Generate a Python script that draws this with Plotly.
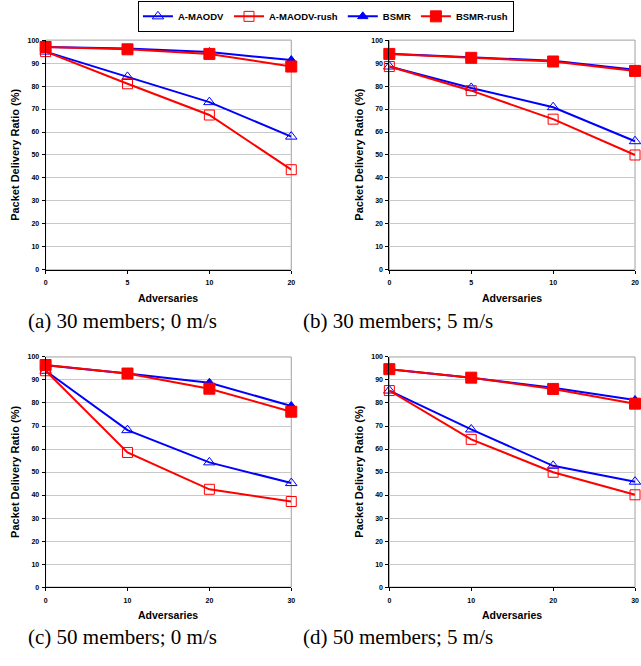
import plotly.graph_objects as go

W, H = 641, 666

series_names = ["A-MAODV", "A-MAODV-rush", "BSMR", "BSMR-rush"]
x_labels_30 = ["0", "5", "10", "20"]
x_labels_50 = ["0", "10", "20", "30"]

# (a) 30 members; 0 m/s
a_amaodv = [95, 84, 73, 58]
a_amaodv_rush = [95, 81, 67.4, 43.6]
a_bsmr = [97, 96.3, 94.8, 91.3]
a_bsmr_rush = [97, 96, 94, 88.5]

# (b) 30 members; 5 m/s
b_amaodv = [88.5, 79.2, 70.8, 56]
b_amaodv_rush = [88.5, 78, 65.6, 50]
b_bsmr = [94.1, 92.4, 91, 87.1]
b_bsmr_rush = [94, 92.3, 90.7, 86.6]

# (c) 50 members; 0 m/s
c_amaodv = [94, 68.2, 54.2, 45.2]
c_amaodv_rush = [94, 58.5, 42.5, 37.2]
c_bsmr = [96.4, 92.8, 88.8, 78.7]
c_bsmr_rush = [96.5, 92.8, 86.2, 76.2]

# (d) 50 members; 5 m/s
d_amaodv = [85.4, 68.5, 52.7, 45.8]
d_amaodv_rush = [85.4, 64.2, 49.9, 40.1]
d_bsmr = [94.7, 91, 86.6, 81.3]
d_bsmr_rush = [94.7, 91, 86.1, 79.7]

captions = ["(a) 30 members; 0 m/s", "(b) 30 members; 5 m/s",
            "(c) 50 members; 0 m/s", "(d) 50 members; 5 m/s"]

panels = [
    (x_labels_30, [a_amaodv, a_amaodv_rush, a_bsmr, a_bsmr_rush]),
    (x_labels_30, [b_amaodv, b_amaodv_rush, b_bsmr, b_bsmr_rush]),
    (x_labels_50, [c_amaodv, c_amaodv_rush, c_bsmr, c_bsmr_rush]),
    (x_labels_50, [d_amaodv, d_amaodv_rush, d_bsmr, d_bsmr_rush]),
]

# plot-area boxes in pixels (left, right, top, bottom)
boxes = [
    (44, 292, 36.5, 268.7),
    (391, 639, 36.5, 268.7),
    (44, 292, 356.7, 589.3),
    (391, 639, 356.7, 589.3),
]
caption_pos = [(122, 320), (400, 320), (122, 640), (400, 640)]

BLUE = "#0000ff"
RED = "#ff0000"
styles = [
    dict(color=BLUE, symbol="triangle-up-open", size=10),
    dict(color=RED, symbol="square-open", size=10),
    dict(color=BLUE, symbol="triangle-up", size=9),
    dict(color=RED, symbol="square", size=11),
]

fig = go.Figure()
AX_FONT = dict(family="Liberation Sans, Arial", size=7, color="#000000", weight="bold")
XT_FONT = dict(family="Liberation Sans, Arial", size=10.5, color="#000000", weight="bold")
YT_FONT = dict(family="Liberation Sans, Arial", size=11, color="#000000", weight="bold")

for i, ((xl, ser), (l, r, t, b)) in enumerate(zip(panels, boxes)):
    n = i + 1
    xa = "x" if n == 1 else f"x{n}"
    ya = "y" if n == 1 else f"y{n}"
    xpos = list(range(len(xl)))
    for k, (name, vals) in enumerate(zip(series_names, ser)):
        st = styles[k]
        fig.add_trace(go.Scatter(
            x=xpos, y=vals, name=name, mode="lines+markers",
            xaxis=xa, yaxis=ya, showlegend=(i == 0), legendgroup=name,
            cliponaxis=False,
            line=dict(color=st["color"], width=2),
            marker=dict(symbol=st["symbol"], size=st["size"], color=st["color"],
                        line=dict(color=st["color"], width=1)),
        ))
    xkey = "xaxis" if n == 1 else f"xaxis{n}"
    ykey = "yaxis" if n == 1 else f"yaxis{n}"
    fig.layout[xkey] = dict(
        domain=[l / W, r / W], anchor=ya, range=[0, len(xl) - 1],
        tickmode="array", tickvals=xpos, ticktext=xl,
        showgrid=False, zeroline=False, showline=True, linecolor="#000000", linewidth=1,
        ticks="outside", ticklen=3, tickcolor="#000000", tickfont=AX_FONT,
        ticklabelstandoff=3, fixedrange=True,
    )
    fig.layout[ykey] = dict(
        domain=[1 - b / H, 1 - t / H], anchor=xa, range=[0, 100],
        tickmode="linear", tick0=0, dtick=10,
        showgrid=True, gridcolor="#c8c8c8", gridwidth=1, zeroline=False,
        showline=True, linecolor="#000000", linewidth=1,
        ticks="outside", ticklen=3, tickcolor="#000000", tickfont=AX_FONT,
        ticklabelstandoff=1, fixedrange=True,
    )
    # plot-area border (grey, top/right visible)
    fig.add_shape(type="rect", xref=f"{xa} domain", yref=f"{ya} domain",
                  x0=0, x1=1, y0=0, y1=1, line=dict(color="#a0a0a0", width=1),
                  layer="below")
    # axis titles
    fig.add_annotation(text="Adversaries", xref="paper", yref="paper",
                       x=(l + r) / 2 / W, y=1 - (b + 28) / H, showarrow=False,
                       font=XT_FONT, xanchor="center", yanchor="middle")
    fig.add_annotation(text="Packet Delivery Ratio (%)", xref="paper", yref="paper",
                       x=(l - 31) / W, y=1 - (t + b) / 2 / H, showarrow=False,
                       textangle=-90, font=YT_FONT, xanchor="center", yanchor="middle")
    cx, cy = caption_pos[i]
    fig.add_annotation(text=captions[i], xref="paper", yref="paper",
                       x=cx / W, y=1 - cy / H, showarrow=False,
                       font=dict(family="Liberation Serif, Times New Roman", size=21, color="#000000"),
                       xanchor="center", yanchor="middle")

fig.update_layout(
    width=W, height=H, margin=dict(l=0, r=0, t=0, b=0),
    paper_bgcolor="white", plot_bgcolor="white",
    legend=dict(orientation="h", x=327 / W, y=1 - 12.5 / H, xanchor="center", yanchor="middle",
                bordercolor="#000000", borderwidth=1, bgcolor="white",
                font=dict(family="Liberation Sans, Arial", size=9.5, color="#000000", weight="bold"),
                itemwidth=30, tracegroupgap=0),
)

fig.write_html("out.html", config={"displayModeBar": False},
               post_script="document.body.style.margin='0px';document.body.style.padding='0px';document.body.style.overflow='hidden';")
